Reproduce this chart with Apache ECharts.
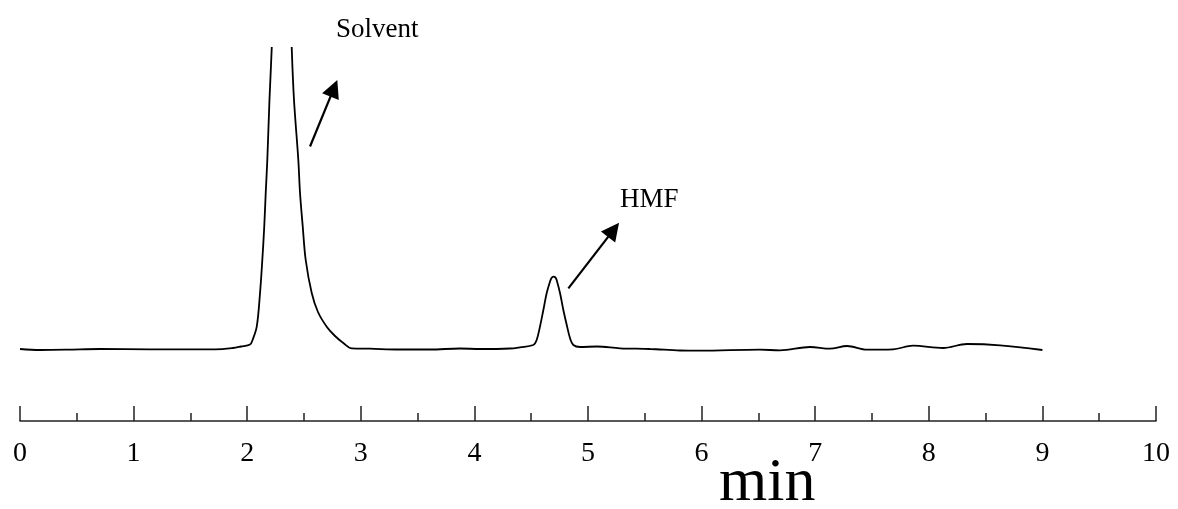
<!DOCTYPE html>
<html>
<head>
<meta charset="utf-8">
<script src="https://cdn.jsdelivr.net/npm/echarts@6/dist/echarts.min.js"></script>
<style>
html,body{margin:0;padding:0;background:#fff;}
#chart{width:1178px;height:509px;}
</style>
</head>
<body>
<div id="chart"></div>
<script>
// Retention time (min)
var times = [0, 0.176, 0.414, 0.704, 1.144, 1.717, 1.875, 1.945, 2.025, 2.047, 2.084, 2.113, 2.133, 2.150, 2.163, 2.177, 2.196, 2.216, 2.236, 2.262, 2.306, 2.350, 2.377, 2.392, 2.412, 2.450, 2.465, 2.489, 2.515, 2.568, 2.623, 2.700, 2.773, 2.846, 2.920, 3.081, 3.345, 3.609, 3.873, 4.049, 4.313, 4.401, 4.518, 4.548, 4.577, 4.607, 4.636, 4.665, 4.679, 4.695, 4.713, 4.724, 4.754, 4.783, 4.813, 4.842, 4.871, 4.930, 5.079, 5.282, 5.546, 5.810, 5.986, 6.514, 6.690, 6.954, 7.130, 7.280, 7.456, 7.685, 7.861, 8.125, 8.336, 8.627, 9.0];
// Detector signal (arbitrary units, baseline ~0)
var signal = [0, -1, -0.7, 0, -0.3, -0.3, 1, 2.5, 4.5, 9, 22.3, 56, 89, 122.3, 156, 189, 249, 301, 369, 419, 449, 419, 359, 301, 249, 189, 156, 122.3, 89, 56, 37, 22.3, 13, 6, 0.7, 0.3, -0.5, -0.5, 0.5, 0, 0.5, 1.7, 4, 9, 22.3, 39, 55.7, 67.3, 71, 72.3, 71.5, 69, 55.7, 39, 24, 10.7, 4, 2, 2.5, 0.7, 0, -1.5, -1.7, -0.7, -1.3, 2, 0.3, 3, -0.7, -0.3, 3.3, 1, 5, 3.7, -1];
// x-axis tick labels
var tickLabels = ['0','1','2','3','4','5','6','7','8','9','10'];
// Peak annotations: label, arrow tail [time, signal], arrow head [time, signal]
var peakNames = ['Solvent', 'HMF'];
var arrowTail = [[2.553, 202.5], [4.827, 60.7]];
var arrowHead = [[2.763, 260.7], [5.225, 119.2]];
var axisTitle = 'min';

var FONT = "'Liberation Serif', 'Times New Roman', serif";
var chart = echarts.init(document.getElementById('chart'), null, {renderer: 'canvas'});

var seriesData = times.map(function (t, i) { return [t, signal[i]]; });
var arrows = arrowTail.map(function (a, i) {
  return [{coord: a}, {coord: arrowHead[i]}];
});

chart.setOption({
  animation: false,
  backgroundColor: '#ffffff',
  grid: {left: 20, right: 22, top: 48, bottom: 88, containLabel: false},
  xAxis: {
    type: 'value',
    min: 0, max: 10, interval: 1,
    axisLine: {show: true, onZero: false, lineStyle: {color: '#222', width: 1.5}},
    axisTick: {show: true, inside: true, length: 15, lineStyle: {color: '#222', width: 1.5}},
    minorTick: {show: true, splitNumber: 2, length: 8, lineStyle: {color: '#222', width: 1.5}},
    splitLine: {show: false},
    minorSplitLine: {show: false},
    axisLabel: {
      margin: 19, fontSize: 28, color: '#000', fontFamily: FONT,
      formatter: function (v) { return tickLabels[Math.round(v)]; }
    }
  },
  yAxis: {type: 'value', show: false, min: -72, max: 301, splitLine: {show: false}},
  graphic: [
    {type: 'text', left: 336, top: 16, style: {text: peakNames[0], font: '27px ' + FONT, fill: '#000'}},
    {type: 'text', left: 620, top: 186, style: {text: peakNames[1], font: '27px ' + FONT, fill: '#000'}},
    {type: 'text', left: 719, top: 453, style: {text: axisTitle, font: '62px ' + FONT, fill: '#000'}}
  ],
  series: [{
    type: 'line',
    data: seriesData,
    showSymbol: false,
    smooth: 0.35,
    clip: true,
    lineStyle: {color: '#000', width: 1.8},
    silent: true,
    markLine: {
      silent: true,
      animation: false,
      symbol: ['none', 'triangle'],
      symbolSize: 18,
      label: {show: false},
      lineStyle: {color: '#000', width: 2.2, type: 'solid'},
      itemStyle: {color: '#000'},
      data: arrows
    }
  }]
});
</script>
</body>
</html>
